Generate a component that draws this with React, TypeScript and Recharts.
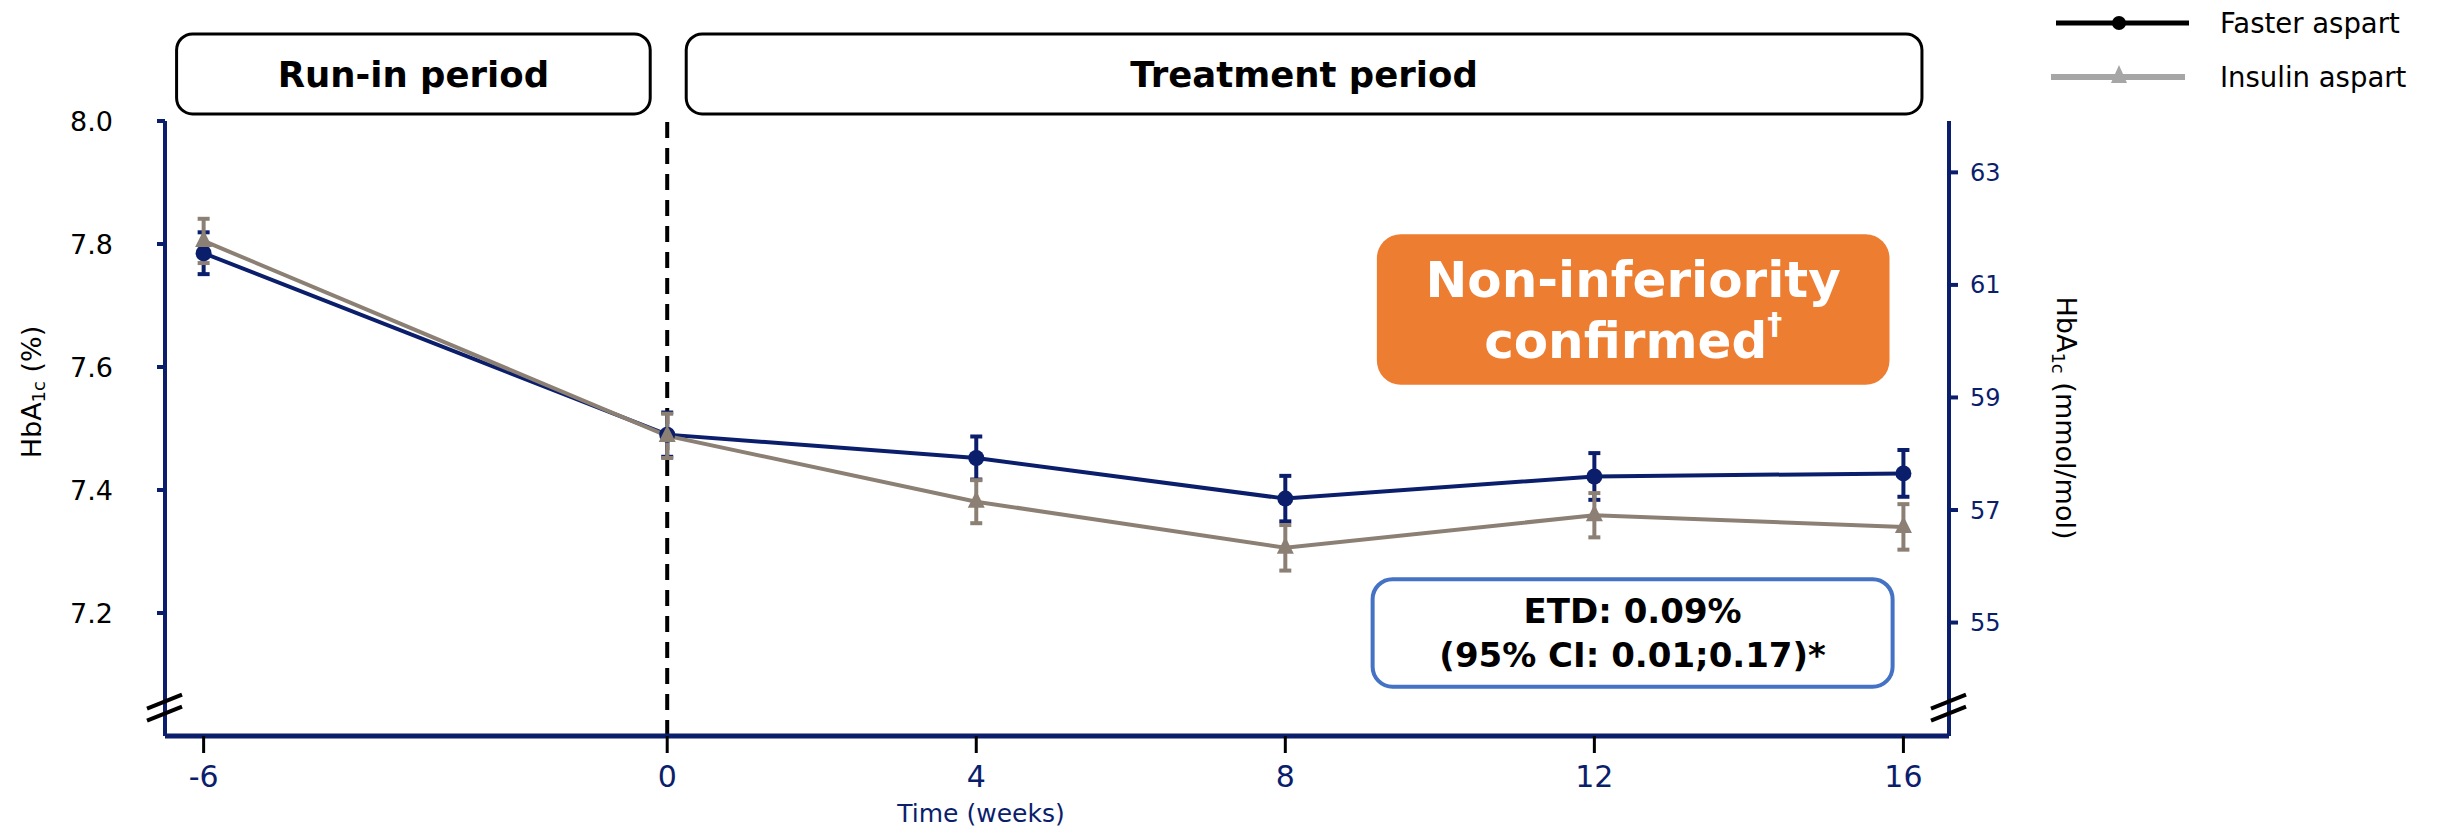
import React from 'react';
import {
  LineChart,
  Line,
  XAxis,
  YAxis,
  ErrorBar,
  ReferenceLine,
  ReferenceArea,
  ReferenceDot,
  Legend,
} from 'recharts';

// ---------- data ----------
const weeks = [-6, 0, 4, 8, 12, 16];
const fasterAspart = [7.785, 7.49, 7.452, 7.386, 7.422, 7.427];
const fasterAspartErr = [0.034, 0.036, 0.035, 0.037, 0.038, 0.038];
const insulinAspart = [7.805, 7.488, 7.381, 7.306, 7.359, 7.34];
const insulinAspartErr = [0.036, 0.036, 0.035, 0.037, 0.036, 0.037];
const seriesNames = ['Faster aspart', 'Insulin aspart'];
const xTicks = [-6, 0, 4, 8, 12, 16];
const yTicksPct = [7.2, 7.4, 7.6, 7.8, 8.0];
const yTicksMmol = [55, 57, 59, 61, 63];
const periodLabels = ['Run-in period', 'Treatment period'];
const noteLines = ['Non-inferiority', 'confirmed'];
const etdLines = ['ETD: 0.09%', '(95% CI: 0.01;0.17)*'];

// ---------- styling ----------
const NAVY = '#0b1e6c';
const TAUPE = '#8c8075';
const ORANGE = '#ed7d31';
const BLUE_BORDER = '#4472c4';
const FONT = "'DejaVu Sans', Verdana, sans-serif";

const pctDomain: [number, number] = [7.0, 8.0];
const toMmol = (p: number) => (p - 2.152) * 10.929;
const mmolDomain: [number, number] = [toMmol(pctDomain[0]), toMmol(pctDomain[1])];

const data = weeks.map((w, i) => ({
  week: w,
  faster: fasterAspart[i],
  fasterErr: fasterAspartErr[i],
  insulin: insulinAspart[i],
  insulinErr: insulinAspartErr[i],
}));

const TriangleDot = (props: any) => {
  const { cx, cy, index } = props;
  if (cx == null || cy == null) return <g key={`t-${index}`} />;
  return (
    <polygon
      key={`t-${index}`}
      points={`${cx},${cy - 11} ${cx - 8.5},${cy + 6} ${cx + 8.5},${cy + 6}`}
      fill={TAUPE}
    />
  );
};

const periodBox = (label: string) => (props: any) => {
  const { x, y, width, height } = props;
  return (
    <g>
      <rect x={x} y={y} width={width} height={height} rx={16} ry={16} fill="#fff" stroke="#000" strokeWidth={3} />
      <text
        x={x + width / 2}
        y={y + height / 2 + 1}
        textAnchor="middle"
        dominantBaseline="central"
        fontFamily={FONT}
        fontWeight="bold"
        fontSize={35.5}
        fill="#000"
      >
        {label}
      </text>
    </g>
  );
};

const orangeBox = (props: any) => {
  const { x, y, width, height } = props;
  const cx = x + width / 2;
  const cy = y + height / 2;
  return (
    <g>
      <rect x={x} y={y} width={width} height={height} rx={24} ry={24} fill={ORANGE} />
      <text x={cx} y={cy - 29} textAnchor="middle" dominantBaseline="central" fontFamily={FONT} fontWeight="bold" fontSize={50} fill="#fff">
        {noteLines[0]}
      </text>
      <text x={cx} y={cy + 32} textAnchor="middle" dominantBaseline="central" fontFamily={FONT} fontWeight="bold" fontSize={50} fill="#fff">
        {noteLines[1]}
        <tspan fontSize={30} dy={-18}>†</tspan>
      </text>
    </g>
  );
};

const etdBox = (props: any) => {
  const { x, y, width, height } = props;
  const cx = x + width / 2;
  const cy = y + height / 2;
  return (
    <g>
      <rect x={x} y={y} width={width} height={height} rx={20} ry={20} fill="#fff" stroke={BLUE_BORDER} strokeWidth={4} />
      <text x={cx} y={cy - 22} textAnchor="middle" dominantBaseline="central" fontFamily={FONT} fontWeight="bold" fontSize={34} fill="#000">
        {etdLines[0]}
      </text>
      <text x={cx} y={cy + 22} textAnchor="middle" dominantBaseline="central" fontFamily={FONT} fontWeight="bold" fontSize={34} fill="#000">
        {etdLines[1]}
      </text>
    </g>
  );
};

const breakMark = (props: any) => {
  const { cx, cy } = props;
  return (
    <g stroke="#000" strokeWidth={4}>
      <line x1={cx - 18} y1={cy + 1} x2={cx + 17} y2={cy - 13} />
      <line x1={cx - 18} y1={cy + 13} x2={cx + 17} y2={cy - 1} />
    </g>
  );
};

const leftLabel = (props: any) => {
  const vb = props.viewBox || {};
  const cx = vb.x - 54;
  const cy = 384;
  return (
    <text
      x={cx}
      y={cy}
      transform={`rotate(-90, ${cx}, ${cy})`}
      textAnchor="middle"
      dominantBaseline="central"
      fontFamily={FONT}
      fontSize={27}
      fill="#000"
    >
      HbA<tspan fontSize={18} dy={7}>1c</tspan>
      <tspan dy={-7}>{'  (%)'}</tspan>
    </text>
  );
};

const rightLabel = (props: any) => {
  const vb = props.viewBox || {};
  const cx = vb.x + 117;
  const cy = 410;
  return (
    <text
      x={cx}
      y={cy}
      transform={`rotate(90, ${cx}, ${cy})`}
      textAnchor="middle"
      dominantBaseline="central"
      fontFamily={FONT}
      fontSize={27}
      fill="#000"
    >
      HbA<tspan fontSize={18} dy={7}>1c</tspan>
      <tspan dy={-7}>{' (mmol/mol)'}</tspan>
    </text>
  );
};

const xLabel = (props: any) => {
  const vb = props.viewBox || {};
  return (
    <text
      x={vb.x + 816}
      y={vb.y + 77}
      textAnchor="middle"
      dominantBaseline="central"
      fontFamily={FONT}
      fontSize={25}
      fill={NAVY}
    >
      Time (weeks)
    </text>
  );
};

const legendStyle: Record<string, { color: string; marker: 'circle' | 'triangle'; x0: number; x1: number }> = {
  [seriesNames[0]]: { color: '#000', marker: 'circle', x0: 26, x1: 159 },
  [seriesNames[1]]: { color: '#a6a6a6', marker: 'triangle', x0: 21, x1: 155 },
};

const renderLegend = (props: any) => {
  const payload: any[] = props.payload && props.payload.length ? props.payload : seriesNames.map((n) => ({ value: n }));
  return (
    <svg width={400} height={100}>
      {payload.map((item, i) => {
        const name = String(item.value);
        const st = legendStyle[name] || legendStyle[seriesNames[i]];
        const y = 15 + i * 54;
        const mx = 89;
        return (
          <g key={name}>
            <line x1={st.x0} y1={y} x2={st.x1} y2={y} stroke={st.color} strokeWidth={i === 0 ? 5 : 6} />
            {st.marker === 'circle' ? (
              <circle cx={mx} cy={y} r={7} fill={st.color} />
            ) : (
              <polygon points={`${mx},${y - 12} ${mx - 8},${y + 6} ${mx + 8},${y + 6}`} fill={st.color} />
            )}
            <text x={190} y={y} dominantBaseline="central" fontFamily={FONT} fontSize={27.5} fill="#000">
              {name}
            </text>
          </g>
        );
      })}
    </svg>
  );
};

export default function App() {
  return (
    <div style={{ width: 2430, height: 822 }}>
      <LineChart
        width={2430}
        height={822}
        data={data}
        margin={{ top: 113, right: 409, bottom: 34, left: 77 }}
      >
        <XAxis
          dataKey="week"
          type="number"
          domain={[-6.5, 16.59]}
          ticks={xTicks}
          interval={0}
          allowDataOverflow
          height={60}
          axisLine={{ stroke: NAVY, strokeWidth: 5 }}
          tickLine={{ stroke: '#000', strokeWidth: 3 }}
          tickSize={17}
          tickMargin={13}
          tick={{ fill: NAVY, fontSize: 30, fontFamily: FONT }}
          label={xLabel}
        />
        <YAxis
          yAxisId="left"
          type="number"
          domain={pctDomain}
          ticks={yTicksPct}
          allowDataOverflow
          width={80}
          axisLine={{ stroke: NAVY, strokeWidth: 4 }}
          tickLine={{ stroke: NAVY, strokeWidth: 4 }}
          tickSize={8}
          tickMargin={44}
          tick={{ fill: '#000', fontSize: 27, fontFamily: FONT }}
          tickFormatter={(v: number) => v.toFixed(1)}
          label={leftLabel}
        />
        <YAxis
          yAxisId="right"
          orientation="right"
          type="number"
          domain={mmolDomain}
          ticks={yTicksMmol}
          allowDataOverflow
          width={80}
          axisLine={{ stroke: NAVY, strokeWidth: 4 }}
          tickLine={{ stroke: NAVY, strokeWidth: 4 }}
          tickSize={9}
          tickMargin={12}
          tick={{ fill: NAVY, fontSize: 24, fontFamily: FONT }}
          label={rightLabel}
        />
        <Legend
          layout="vertical"
          align="center"
          verticalAlign="middle"
          wrapperStyle={{ position: 'absolute', top: 0, left: 2022, width: 400, height: 100 }}
          content={renderLegend}
        />
        <ReferenceArea yAxisId="left" x1={-6.35} x2={-0.22} y1={8.0114} y2={8.1415} ifOverflow="visible" shape={periodBox(periodLabels[0])} />
        <ReferenceArea yAxisId="left" x1={0.246} x2={16.24} y1={8.0114} y2={8.1415} ifOverflow="visible" shape={periodBox(periodLabels[1])} />
        <ReferenceArea yAxisId="left" x1={9.185} x2={15.82} y1={7.571} y2={7.816} ifOverflow="visible" shape={orangeBox} />
        <ReferenceArea yAxisId="left" x1={9.13} x2={15.86} y1={7.08} y2={7.255} ifOverflow="visible" shape={etdBox} />
        <ReferenceLine yAxisId="left" x={0} stroke="#000" strokeWidth={4} strokeDasharray="16 10" ifOverflow="visible" />
        <ReferenceDot yAxisId="left" x={-6.5} y={7.046} r={1} ifOverflow="visible" shape={breakMark} />
        <ReferenceDot yAxisId="left" x={16.59} y={7.046} r={1} ifOverflow="visible" shape={breakMark} />
        <Line
          yAxisId="left"
          name={seriesNames[0]}
          dataKey="faster"
          type="linear"
          stroke={NAVY}
          strokeWidth={4}
          dot={{ r: 8, fill: NAVY, stroke: NAVY, strokeWidth: 0 }}
          activeDot={false}
          isAnimationActive={false}
        >
          <ErrorBar dataKey="fasterErr" direction="y" width={6} stroke={NAVY} strokeWidth={4} isAnimationActive={false} />
        </Line>
        <Line
          yAxisId="left"
          name={seriesNames[1]}
          dataKey="insulin"
          type="linear"
          stroke={TAUPE}
          strokeWidth={4}
          dot={(p: any) => <TriangleDot key={`tri-${p.index}`} {...p} />}
          activeDot={false}
          isAnimationActive={false}
        >
          <ErrorBar dataKey="insulinErr" direction="y" width={6} stroke={TAUPE} strokeWidth={4} isAnimationActive={false} />
        </Line>
      </LineChart>
    </div>
  );
}
